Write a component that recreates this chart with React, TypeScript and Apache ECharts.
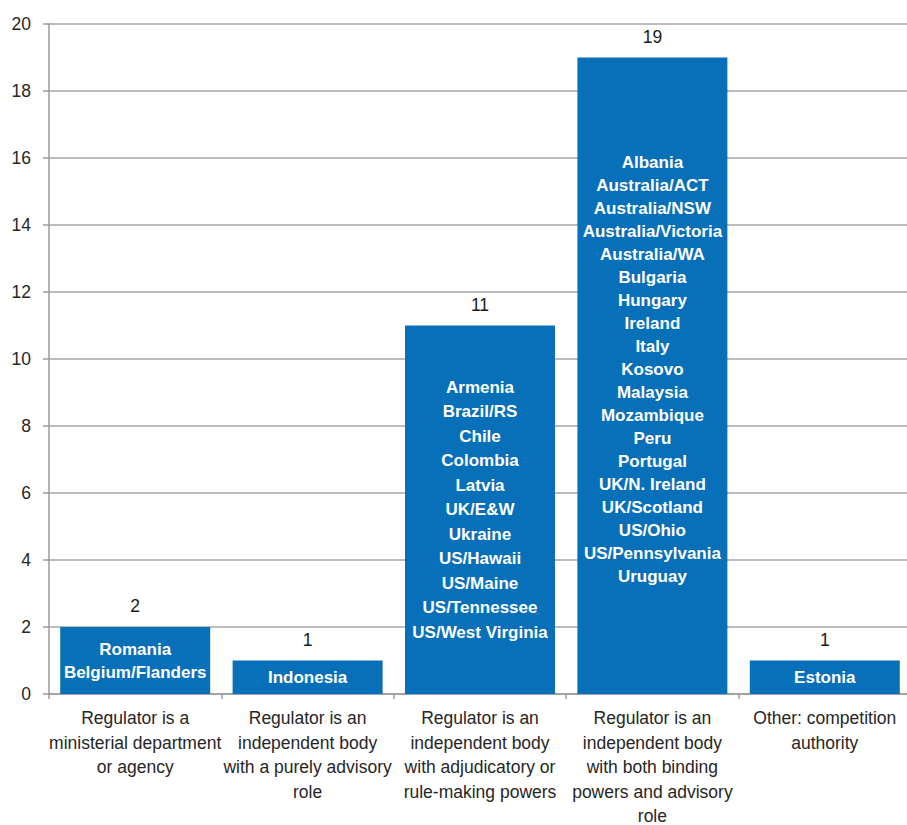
import React, { useEffect, useRef } from "react";
import * as echarts from "echarts";

const categories: string[] = [
  "Regulator is a\nministerial department\nor agency",
  "Regulator is an\nindependent body\nwith a purely advisory\nrole",
  "Regulator is an\nindependent body\nwith adjudicatory or\nrule-making powers",
  "Regulator is an\nindependent body\nwith both binding\npowers and advisory\nrole",
  "Other: competition\nauthority",
];

const counts: number[] = [2, 1, 11, 19, 1];

const ministerial: string[] = ["Romania", "Belgium/Flanders"];
const advisory: string[] = ["Indonesia"];
const adjudicatory: string[] = [
  "Armenia",
  "Brazil/RS",
  "Chile",
  "Colombia",
  "Latvia",
  "UK/E&W",
  "Ukraine",
  "US/Hawaii",
  "US/Maine",
  "US/Tennessee",
  "US/West Virginia",
];
const bindingAdvisory: string[] = [
  "Albania",
  "Australia/ACT",
  "Australia/NSW",
  "Australia/Victoria",
  "Australia/WA",
  "Bulgaria",
  "Hungary",
  "Ireland",
  "Italy",
  "Kosovo",
  "Malaysia",
  "Mozambique",
  "Peru",
  "Portugal",
  "UK/N. Ireland",
  "UK/Scotland",
  "US/Ohio",
  "US/Pennsylvania",
  "Uruguay",
];
const competition: string[] = ["Estonia"];

const members: string[][] = [ministerial, advisory, adjudicatory, bindingAdvisory, competition];

// label style per bar (line spacing of the names list, vertical nudge)
const labelLineHeights: number[] = [23, 23, 24.5, 23, 23];
const labelNudges: number[] = [0, 0, 0, -6, 0];

const yTicks = { min: 0, max: 20, interval: 2 };

export default function App() {
  const ref = useRef<HTMLDivElement>(null);

  useEffect(() => {
    if (!ref.current) return;
    const chart = echarts.init(ref.current, null, { renderer: "svg" });
    const font = "'Liberation Sans', Arial, sans-serif";
    const barData = counts.map((v, i) => ({
      value: v,
      label: { lineHeight: labelLineHeights[i], offset: [0, labelNudges[i]] },
    }));
    chart.setOption({
      animation: false,
      textStyle: { fontFamily: font },
      grid: {
        left: 49,
        top: 24,
        width: 862,
        height: 670,
        containLabel: false,
        outerBoundsMode: "none",
      },
      xAxis: {
        type: "category",
        data: categories,
        axisLine: { show: true, lineStyle: { color: "#9a9a9a", width: 1.5 } },
        axisTick: { show: true, length: 5, alignWithLabel: false, interval: 0, lineStyle: { color: "#9a9a9a", width: 1.5 } },
        axisLabel: {
          interval: 0,
          margin: 12,
          color: "#262626",
          fontSize: 17.5,
          lineHeight: 24.5,
          fontFamily: font,
          align: "center",
        },
      },
      yAxis: {
        type: "value",
        min: yTicks.min,
        max: yTicks.max,
        interval: yTicks.interval,
        axisLine: { show: true, lineStyle: { color: "#9a9a9a", width: 1.5 } },
        axisTick: { show: true, length: 6, lineStyle: { color: "#9a9a9a", width: 1.5 } },
        splitLine: { show: true, lineStyle: { color: "#a6a6a6", width: 1.5 } },
        axisLabel: { margin: 18, color: "#262626", fontSize: 17.5, fontFamily: font },
      },
      series: [
        {
          type: "bar",
          data: barData,
          barCategoryGap: "13%",
          itemStyle: { color: "#0870b9" },
          silent: true,
          label: {
            show: true,
            position: "inside",
            color: "#ffffff",
            fontWeight: "bold",
            fontSize: 17,
            lineHeight: 23,
            fontFamily: font,
            formatter: (p: any) => members[p.dataIndex].join("\n"),
          },
          z: 2,
        },
        {
          type: "bar",
          data: counts,
          barGap: "-100%",
          barCategoryGap: "13%",
          itemStyle: { color: "rgba(0,0,0,0)" },
          silent: true,
          label: {
            show: true,
            position: "top",
            distance: 12,
            color: "#1a1a1a",
            fontSize: 17.5,
            fontFamily: font,
          },
          z: 3,
        },
      ],
    });
    return () => chart.dispose();
  }, []);

  return (
    <div
      ref={ref}
      style={{ position: "absolute", left: 0, top: 0, width: 907, height: 825 }}
    />
  );
}
